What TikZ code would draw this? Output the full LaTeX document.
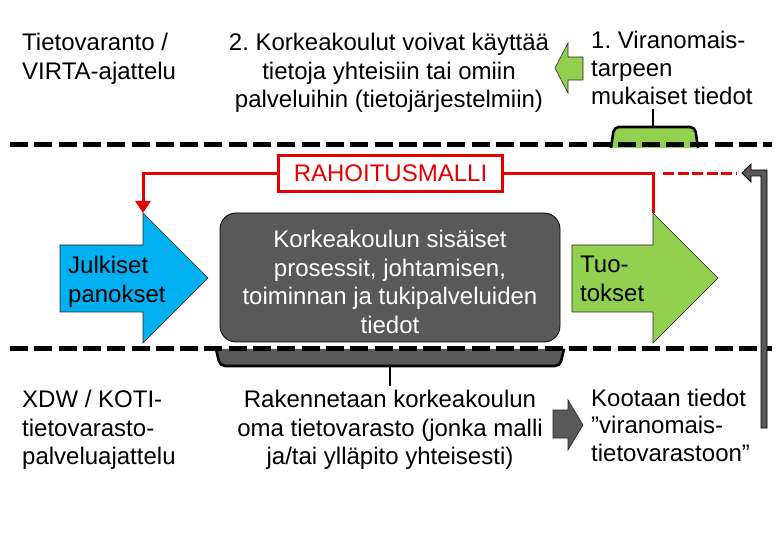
\documentclass[tikz,border=0pt]{standalone}
\usepackage{fontspec}
\setmainfont{Liberation Sans}
\usetikzlibrary{arrows.meta}
\definecolor{myblue}{RGB}{0,176,240}
\definecolor{mygreen}{RGB}{146,208,80}
\definecolor{mygray}{RGB}{89,89,89}
\definecolor{myred}{RGB}{228,0,0}
\frenchspacing
\begin{document}
\begin{tikzpicture}[x=1pt,y=-1pt,
  txt/.style={inner sep=0pt, font=\fontsize{24}{28.5}\selectfont},
  arrowshape/.style={draw=black!85, line width=0.6pt},
  dashline/.style={line width=5pt, dash pattern=on 18pt off 6.3pt},
  redline/.style={draw=myred, line width=3pt},
  bracket/.style={line width=2.6pt, rounded corners=5pt}]
\useasboundingbox (0,0) rectangle (780,540);
\fill[white] (0,0) rectangle (780,540);

% brackets (below dashed lines)
\coordinate (gbTop) at (653,127);
\coordinate (gbStem) at (653,109);
\draw[bracket, fill=mygreen] (611,148) -- (614,127) -- (695,127) -- (698,148);
\draw[line width=2.5pt] (gbTop) -- (gbStem);

\coordinate (dbBot) at (390,366);
\coordinate (dbStem) at (390,386);
\draw[bracket, fill=mygray] (216,349) -- (220,366) -- (560,366) -- (564,349);
\draw[line width=2.8pt] (dbBot) -- (dbStem);

% dashed separators
\coordinate (d1a) at (10,145);
\coordinate (d1b) at (772,145);
\coordinate (d2a) at (10,349);
\coordinate (d2b) at (772,349);
\draw[dashline] (d1a) -- (d1b);
\draw[dashline] (d2a) -- (d2b);

% top texts
\node[txt, font=\fontsize{24}{29}\selectfont, anchor=north west, align=left] (tl) at (22,32.7) {Tietovaranto /\\VIRTA-ajattelu};
\node[txt, font=\fontsize{24}{28.3}\selectfont, anchor=north, align=center] (tm) at (389,33.4) {2. Korkeakoulut voivat käyttää\\tietoja yhteisiin tai omiin\\palveluihin (tietojärjestelmiin)};
\node[txt, font=\fontsize{24}{28}\selectfont, anchor=north west, align=left] (tr) at (591,30.5) {1. Viranomais-\\tarpeen\\mukaiset tiedot};

% small green arrow pointing left
\draw[arrowshape, fill=mygreen] (583,57) -- (568,57) -- (568,43) -- (555,68) -- (568,93) -- (568,80) -- (583,80) -- cycle;

% blue arrow
\coordinate (bTop) at (143,213);
\draw[arrowshape, fill=myblue] (60,245) -- (143,245) -- (bTop) -- (208,278) -- (143,343) -- (143,312) -- (60,312) -- cycle;
\node[txt, anchor=north west, align=left] (julk) at (68,256) {Julkiset\\panokset};

% green arrow
\coordinate (gTop) at (653,213);
\draw[arrowshape, fill=mygreen] (572,245) -- (653,245) -- (gTop) -- (718,278) -- (653,343) -- (653,312) -- (572,312) -- cycle;
\node[txt, anchor=north west, align=left] (tuo) at (580,256) {Tuo-\\tokset};

% process box
\node[draw=black, line width=0.8pt, fill=mygray, rounded corners=16pt, minimum width=340pt, minimum height=129pt, inner sep=0pt] (proc) at (390,277.5) {};
\node[txt, text=white, anchor=north, align=center] (proctext) at (390,230) {Korkeakoulun sisäiset\\prosessit, johtamisen,\\toiminnan ja tukipalveluiden\\tiedot};

% RAHOITUSMALLI
\node[draw=myred, line width=3pt, minimum width=224pt, minimum height=36pt, inner sep=0pt, text=myred, font=\fontsize{24}{28}\selectfont] (rm) at (390.5,173.5) {RAHOITUSMALLI};
\draw[redline, -{Triangle[length=12pt,width=15pt]}] (rm.west) -| (bTop);
\draw[redline] (rm.east) -| (gTop);
\coordinate (rd1) at (663,173.5);
\coordinate (rd2) at (736,173.5);
\draw[myred, line width=3pt, dash pattern=on 11pt off 3.5pt] (rd1) -- (rd2);

% gray return arrow
\draw[fill=mygray, draw=black, line width=0.8pt] (761,428) -- (761,176) -- (751,176) -- (751,182) -- (742,173) -- (751,164) -- (751,170) -- (767,170) -- (767,428) -- cycle;

% bottom texts
\node[txt, anchor=north west, align=left] (xdw) at (22,390.4) {XDW / KOTI-\\tietovarasto-\\palveluajattelu};
\node[txt, anchor=north, align=center] (rak) at (390,390.4) {Rakennetaan korkeakoulun\\oma tietovarasto (jonka malli\\ja/tai ylläpito yhteisesti)};
\node[txt, font=\fontsize{24}{27.5}\selectfont, anchor=north west, align=left] (koot) at (591,388.8) {Kootaan tiedot\\”viranomais-\\tietovarastoon”};

% small gray arrow pointing right
\draw[arrowshape, fill=mygray] (553,410) -- (568,410) -- (568,400) -- (583,425) -- (568,450) -- (568,438) -- (553,438) -- cycle;
\end{tikzpicture}
\end{document}
